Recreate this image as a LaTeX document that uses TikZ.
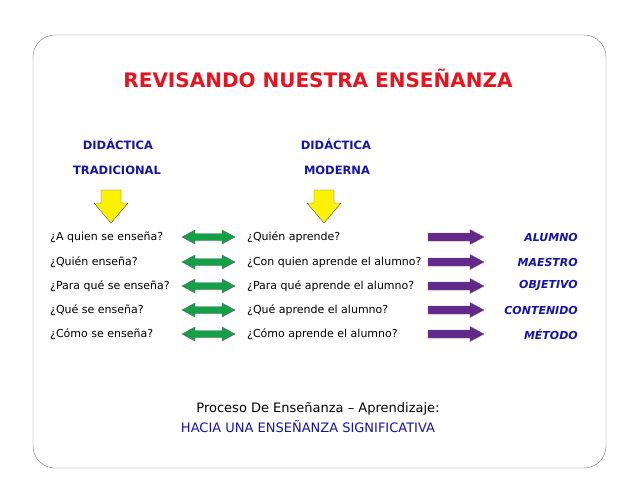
\documentclass[tikz,border=0pt]{standalone}
\usepackage{fontspec}
\setmainfont{DejaVu Sans}
\definecolor{ttl}{RGB}{230,20,30}
\definecolor{hd}{RGB}{20,20,170}
\definecolor{gr}{RGB}{20,160,70}
\definecolor{pu}{RGB}{100,40,140}
\begin{document}
\begin{tikzpicture}[x=1pt,y=-1pt,
  q/.style={anchor=west,font=\fontsize{11}{13}\selectfont,inner sep=0},
  r/.style={anchor=east,font=\fontsize{11}{13}\selectfont\bfseries\itshape,text=hd,inner sep=0},
  h/.style={font=\fontsize{11.5}{13}\selectfont\bfseries,text=hd,inner sep=0},
  ya/.style={draw=black!70,fill=yellow},
  ga/.style={draw=black!60,fill=gr},
  pa/.style={draw=black!60,fill=pu}]
\useasboundingbox (0,0) rectangle (638,493);
\draw[black!50,rounded corners=22pt] (33,35) rectangle (606,468);
\node[font=\fontsize{20}{24}\selectfont\bfseries,text=ttl] (t) at (318,78) {REVISANDO NUESTRA ENSEÑANZA};
\node[h] (h1) at (118,144) {DIDÁCTICA};
\node[h] (h2) at (117,170) {TRADICIONAL};
\node[h] (h3) at (336,144) {DIDÁCTICA};
\node[h] (h4) at (337,170) {MODERNA};
\foreach \cx in {111,324}{
  \draw[ya] (\cx-10,190) -- (\cx+10,190) -- (\cx+10,203) -- (\cx+17,203) -- (\cx,223) -- (\cx-17,203) -- (\cx-10,203) -- cycle;}
\foreach \i/\yy/\a/\b/\c in {1/237/¿A quien se enseña?/¿Quién aprende?/ALUMNO,
  2/262/¿Quién enseña?/¿Con quien aprende el alumno?/MAESTRO,
  3/286/¿Para qué se enseña?/¿Para qué aprende el alumno?/OBJETIVO,
  4/310/¿Qué se enseña?/¿Qué aprende el alumno?/CONTENIDO,
  5/334/¿Cómo se enseña?/¿Cómo aprende el alumno?/MÉTODO}{
  \node[q] (l\i) at (50,\yy) {\a};
  \draw[ga] (182,\yy) -- (195,\yy-7) -- (195,\yy-3.5) -- (222,\yy-3.5) -- (222,\yy-7) -- (235,\yy) -- (222,\yy+7) -- (222,\yy+3.5) -- (195,\yy+3.5) -- (195,\yy+7) -- cycle;
  \node[q] (m\i) at (247,\yy) {\b};
  \draw[pa] (428,\yy-4) -- (470,\yy-4) -- (470,\yy-7.5) -- (484,\yy) -- (470,\yy+7.5) -- (470,\yy+4) -- (428,\yy+4) -- cycle;
  \node[r] (r\i) at (578,\yy) {\c};
}
\node[font=\fontsize{13}{15}\selectfont] (b1) at (318,409) {Proceso De Enseñanza – Aprendizaje:};
\node[font=\fontsize{13}{15}\selectfont,text=hd] (b2) at (308,427) {HACIA UNA ENSEÑANZA SIGNIFICATIVA};
\end{tikzpicture}
\end{document}
